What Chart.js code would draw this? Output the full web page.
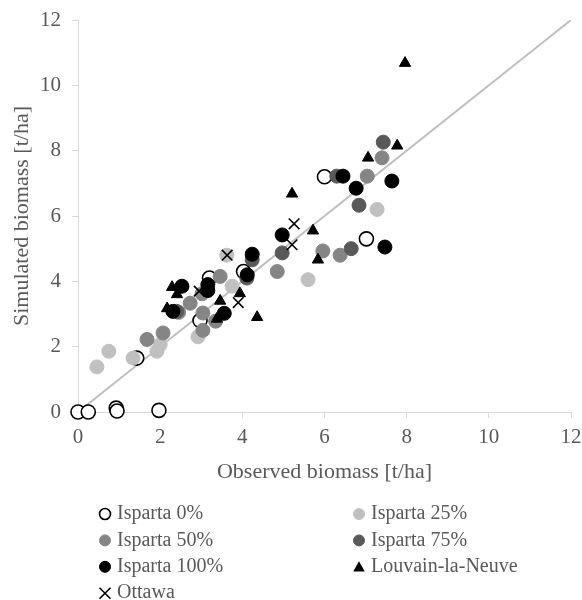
<!DOCTYPE html>
<html>
<head>
<meta charset="utf-8">
<script src="https://cdn.jsdelivr.net/npm/chart.js"></script>
<style>
  html, body { margin: 0; padding: 0; background: #fff; }
  #wrap { width: 582px; height: 600px; position: relative; }
</style>
</head>
<body>
<div id="wrap"><canvas id="biomassChart"></canvas></div>
<script>
// observed vs simulated biomass [t/ha]
const isparta0 = [[0, 0], [0.25, 0], [0.93, 0.12], [0.95, 0.03], [1.97, 0.05], [1.43, 1.65], [2.97, 2.8], [3.2, 4.1], [4.03, 4.3], [6.0, 7.2], [7.02, 5.3]];
const isparta25 = [[0.46, 1.38], [0.75, 1.86], [1.34, 1.65], [1.92, 1.86], [2.0, 2.06], [2.92, 2.3], [3.75, 3.85], [3.62, 4.8], [5.6, 4.05], [7.28, 6.2]];
const isparta50 = [[1.68, 2.22], [2.07, 2.42], [2.45, 3.05], [2.73, 3.33], [3.02, 3.62], [3.04, 3.03], [3.04, 2.5], [3.46, 4.15], [3.35, 2.78], [4.85, 4.3], [5.96, 4.93], [6.38, 4.8], [7.04, 7.22], [7.4, 7.78]];
const isparta75 = [[2.4, 3.08], [4.11, 4.1], [4.24, 4.66], [4.97, 4.87], [6.3, 7.22], [6.65, 5.0], [6.84, 6.33], [7.43, 8.26]];
const isparta100 = [[2.53, 3.85], [2.31, 3.08], [3.16, 3.9], [3.16, 3.72], [3.56, 3.02], [4.12, 4.2], [4.24, 4.83], [4.97, 5.42], [6.45, 7.22], [6.77, 6.85], [7.64, 7.07], [7.47, 5.05]];
const louvain = [[2.29, 3.82], [2.41, 3.6], [2.17, 3.17], [3.46, 3.4], [3.38, 2.85], [3.94, 3.63], [4.36, 2.9], [5.21, 6.68], [5.72, 5.55], [5.84, 4.66], [7.06, 7.78], [7.77, 8.15], [7.96, 10.68]];
const ottawa = [[2.95, 3.7], [3.63, 4.8], [3.9, 3.35], [5.21, 5.12], [5.26, 5.76]];
const oneToOne = [[0, 0], [12, 12]];

const seriesNames = ['Isparta 0%', 'Isparta 25%', 'Isparta 50%', 'Isparta 75%', 'Isparta 100%', 'Louvain-la-Neuve', 'Ottawa'];
const axisTicks = [0, 2, 4, 6, 8, 10, 12];

const textColor = '#595959';
const axisColor = '#d9d9d9';
const serif = '"Liberation Serif", "Times New Roman", serif';

const toXY = arr => arr.map(p => ({ x: p[0], y: p[1] }));

function series(name, data, style, idx) {
  return Object.assign({
    label: name,
    data: toXY(data),
    showLine: false,
    pointRadius: 7,
    pointHoverRadius: 7,
    pointBorderWidth: 1,
    clip: false,
    order: 7 - idx,
    inLegend: true,
  }, style);
}

const styles = [
  { pointStyle: 'circle', pointBackgroundColor: '#ffffff', pointBorderColor: '#000000', pointBorderWidth: 1.6 },
  { pointStyle: 'circle', pointBackgroundColor: '#c0c0c0', pointBorderColor: '#c0c0c0' },
  { pointStyle: 'circle', pointBackgroundColor: '#858585', pointBorderColor: '#858585' },
  { pointStyle: 'circle', pointBackgroundColor: '#595959', pointBorderColor: '#595959' },
  { pointStyle: 'circle', pointBackgroundColor: '#000000', pointBorderColor: '#000000' },
  { pointStyle: 'triangle', pointBackgroundColor: '#000000', pointBorderColor: '#000000', pointRadius: 6.5 },
  { pointStyle: 'crossRot', pointBackgroundColor: '#000000', pointBorderColor: '#000000', pointBorderWidth: 1.6, pointRadius: 7.5 },
];
const allSeries = [isparta0, isparta25, isparta50, isparta75, isparta100, louvain, ottawa];

const datasets = allSeries.map((d, i) => series(seriesNames[i], d, styles[i], i));
datasets.push({
  label: '1:1',
  data: toXY(oneToOne),
  showLine: true,
  borderColor: '#bfbfbf',
  borderWidth: 2,
  pointRadius: 0,
  order: 20,
  inLegend: false,
});

// legend in two columns under the plot
function drawMarker(ctx, style, x, y, r) {
  ctx.save();
  ctx.fillStyle = style.pointBackgroundColor;
  ctx.strokeStyle = style.pointBorderColor;
  ctx.lineWidth = style.pointBorderWidth || 1;
  ctx.beginPath();
  if (style.pointStyle === 'circle') {
    ctx.arc(x, y, r, 0, Math.PI * 2);
    ctx.fill();
    ctx.stroke();
  } else if (style.pointStyle === 'triangle') {
    ctx.moveTo(x, y - r);
    ctx.lineTo(x + r * 1.05, y + r * 0.85);
    ctx.lineTo(x - r * 1.05, y + r * 0.85);
    ctx.closePath();
    ctx.fill();
  } else {
    ctx.moveTo(x - r, y - r); ctx.lineTo(x + r, y + r);
    ctx.moveTo(x + r, y - r); ctx.lineTo(x - r, y + r);
    ctx.stroke();
  }
  ctx.restore();
}

const twoColLegend = {
  id: 'twoColLegend',
  afterDraw(chart) {
    const { ctx, chartArea } = chart;
    const items = chart.data.datasets.filter(d => d.inLegend);
    ctx.save();
    ctx.font = '20px ' + serif;
    ctx.fillStyle = textColor;
    ctx.textBaseline = 'middle';
    ctx.textAlign = 'left';
    items.forEach((ds, i) => {
      const col = i % 2;
      const row = Math.floor(i / 2);
      const mx = col ? 359 : 105;
      const y = chartArea.bottom + 102 + row * 26.4;
      drawMarker(ctx, ds, mx, y, 5.5);
      ctx.fillStyle = textColor;
      ctx.fillText(ds.label, mx + 12, y);
    });
    ctx.restore();
  }
};

new Chart(document.getElementById('biomassChart'), {
  type: 'scatter',
  data: { datasets },
  plugins: [twoColLegend],
  options: {
    responsive: true,
    maintainAspectRatio: false,
    animation: false,
    layout: { padding: { top: 20, right: 11, bottom: 113, left: 0 } },
    plugins: {
      legend: { display: false },
      tooltip: { enabled: false },
    },
    scales: {
      x: {
        type: 'linear',
        min: 0,
        max: 12,
        afterFit: s => { s.height = 75; },
        afterBuildTicks: s => { s.ticks = axisTicks.map(v => ({ value: v })); },
        border: { color: axisColor, width: 1 },
        grid: { drawOnChartArea: false, drawTicks: true, tickLength: 6, color: axisColor },
        ticks: { color: textColor, font: { family: serif, size: 21, lineHeight: 1.9 }, padding: 0, maxRotation: 0 },
        title: { display: true, text: 'Observed biomass [t/ha]', color: textColor, font: { family: serif, size: 22 }, padding: { top: 4, bottom: 2 } },
      },
      y: {
        type: 'linear',
        min: 0,
        max: 12,
        afterFit: s => { s.width = 78; },
        afterBuildTicks: s => { s.ticks = axisTicks.map(v => ({ value: v })); },
        border: { color: axisColor, width: 1 },
        grid: { drawOnChartArea: false, drawTicks: true, tickLength: 6, color: axisColor },
        ticks: { color: textColor, font: { family: serif, size: 21, lineHeight: 0.85 }, padding: 11 },
        title: { display: true, text: 'Simulated biomass [t/ha]', color: textColor, font: { family: serif, size: 22 }, padding: { top: 9, bottom: 4 } },
      },
    },
  },
});
</script>
</body>
</html>
